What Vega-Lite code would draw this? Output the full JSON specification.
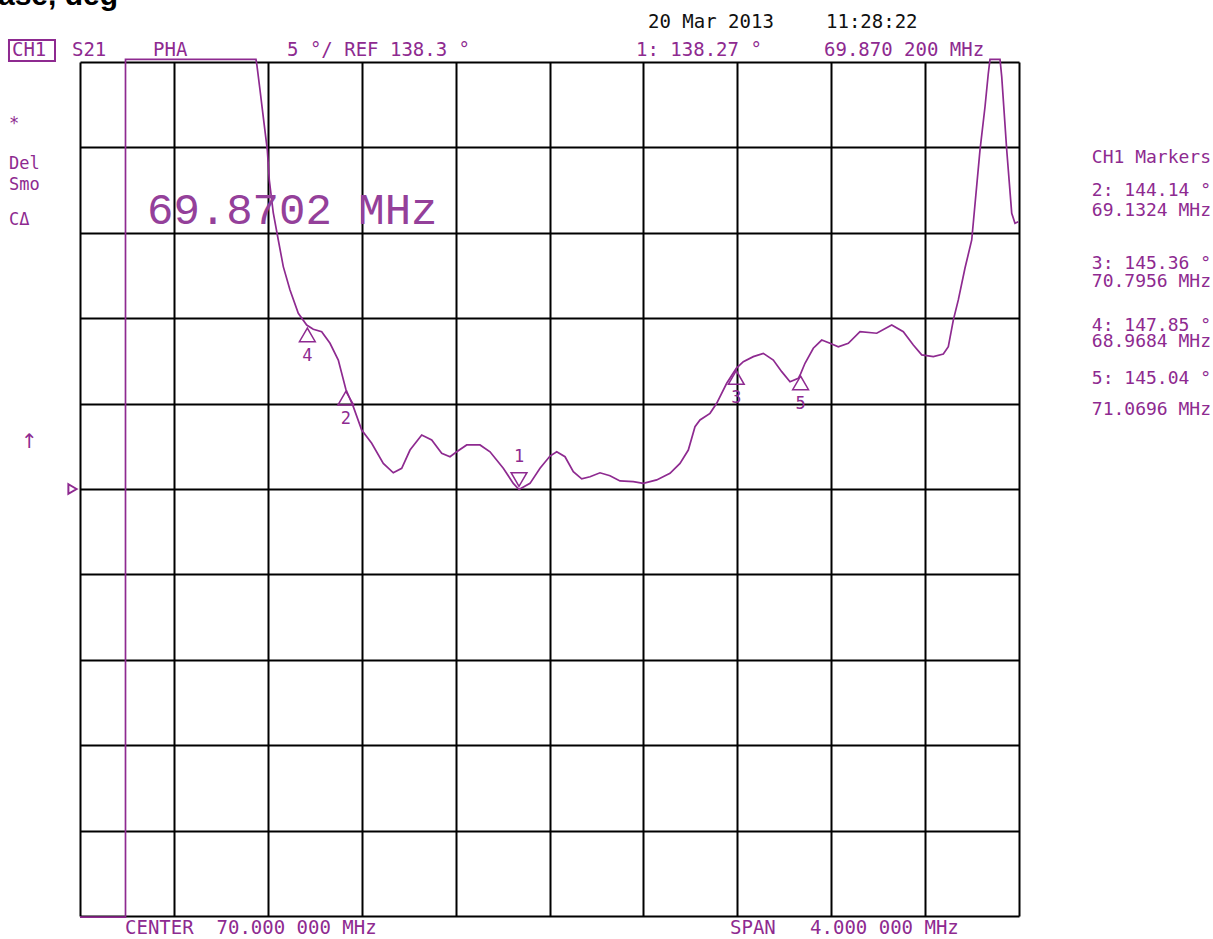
{
  "$schema": "https://vega.github.io/schema/vega-lite/v6.json",
  "width": 939,
  "height": 854,
  "autosize": {"type": "none"},
  "padding": {"left": 80, "top": 62, "right": 194, "bottom": 23},
  "background": "#ffffff",
  "config": {
    "view": {"stroke": null},
    "axis": {"labels": false, "ticks": false, "domain": false, "title": null, "grid": true, "gridColor": "#000000", "gridWidth": 2, "gridOpacity": 1}
  },
  "datasets": {
    "trace": [
      {"f": 68.0, "p": 113.24},
      {"f": 68.1938, "p": 113.24},
      {"f": 68.1938, "p": 163.45},
      {"f": 68.7497, "p": 163.45},
      {"f": 68.754, "p": 163.07},
      {"f": 68.7668, "p": 161.66},
      {"f": 68.7838, "p": 159.73},
      {"f": 68.7979, "p": 158.15},
      {"f": 68.8064, "p": 156.39},
      {"f": 68.8234, "p": 154.46},
      {"f": 68.8447, "p": 152.88},
      {"f": 68.866, "p": 151.32},
      {"f": 68.8946, "p": 149.95},
      {"f": 68.9299, "p": 148.59},
      {"f": 68.9657, "p": 147.9},
      {"f": 68.9938, "p": 147.65},
      {"f": 69.0296, "p": 147.51},
      {"f": 69.065, "p": 146.83},
      {"f": 69.1003, "p": 145.85},
      {"f": 69.1324, "p": 144.14},
      {"f": 69.1642, "p": 143.12},
      {"f": 69.2, "p": 141.75},
      {"f": 69.2426, "p": 140.98},
      {"f": 69.292, "p": 139.8},
      {"f": 69.3346, "p": 139.25},
      {"f": 69.3704, "p": 139.51},
      {"f": 69.4058, "p": 140.58},
      {"f": 69.4556, "p": 141.46},
      {"f": 69.4982, "p": 141.17},
      {"f": 69.5408, "p": 140.39},
      {"f": 69.5762, "p": 140.19},
      {"f": 69.6047, "p": 140.48},
      {"f": 69.6473, "p": 140.88},
      {"f": 69.704, "p": 140.88},
      {"f": 69.7466, "p": 140.48},
      {"f": 69.8032, "p": 139.51},
      {"f": 69.8458, "p": 138.63},
      {"f": 69.8702, "p": 138.27},
      {"f": 69.917, "p": 138.63},
      {"f": 69.9596, "p": 139.51},
      {"f": 70.0022, "p": 140.23},
      {"f": 70.0307, "p": 140.48},
      {"f": 70.0661, "p": 140.19},
      {"f": 70.1014, "p": 139.31},
      {"f": 70.1372, "p": 138.89},
      {"f": 70.1725, "p": 139.02},
      {"f": 70.2151, "p": 139.25},
      {"f": 70.2577, "p": 139.08},
      {"f": 70.3003, "p": 138.77},
      {"f": 70.357, "p": 138.73},
      {"f": 70.3996, "p": 138.63},
      {"f": 70.4567, "p": 138.83},
      {"f": 70.5133, "p": 139.22},
      {"f": 70.5559, "p": 139.8},
      {"f": 70.5913, "p": 140.58},
      {"f": 70.6198, "p": 141.95},
      {"f": 70.6411, "p": 142.34},
      {"f": 70.6837, "p": 142.73},
      {"f": 70.7122, "p": 143.32},
      {"f": 70.7548, "p": 144.49},
      {"f": 70.7956, "p": 145.36},
      {"f": 70.8256, "p": 145.75},
      {"f": 70.8682, "p": 146.05},
      {"f": 70.9108, "p": 146.24},
      {"f": 70.9534, "p": 145.85},
      {"f": 70.9892, "p": 145.17},
      {"f": 71.0245, "p": 144.58},
      {"f": 71.0599, "p": 144.78},
      {"f": 71.0696, "p": 145.04},
      {"f": 71.0884, "p": 145.66},
      {"f": 71.1238, "p": 146.54},
      {"f": 71.1596, "p": 147.02},
      {"f": 71.1949, "p": 146.83},
      {"f": 71.2303, "p": 146.63},
      {"f": 71.2729, "p": 146.83},
      {"f": 71.3227, "p": 147.51},
      {"f": 71.3939, "p": 147.42},
      {"f": 71.4578, "p": 147.9},
      {"f": 71.5072, "p": 147.51},
      {"f": 71.5498, "p": 146.73},
      {"f": 71.5856, "p": 146.15},
      {"f": 71.635, "p": 146.05},
      {"f": 71.6776, "p": 146.2},
      {"f": 71.6989, "p": 146.63},
      {"f": 71.7202, "p": 148.19},
      {"f": 71.7415, "p": 149.37},
      {"f": 71.77, "p": 151.24},
      {"f": 71.7986, "p": 152.88},
      {"f": 71.8339, "p": 158.15},
      {"f": 71.8552, "p": 160.68},
      {"f": 71.8693, "p": 162.64},
      {"f": 71.8765, "p": 163.45},
      {"f": 71.9191, "p": 163.45},
      {"f": 71.9264, "p": 162.44},
      {"f": 71.9477, "p": 158.15},
      {"f": 71.969, "p": 154.44},
      {"f": 71.983, "p": 153.86},
      {"f": 71.9971, "p": 153.95}
    ],
    "markers": [
      {"id": 1, "f": 69.8702, "p": 138.27},
      {"id": 2, "f": 69.1324, "p": 144.14},
      {"id": 3, "f": 70.7956, "p": 145.36},
      {"id": 4, "f": 68.9684, "p": 147.85},
      {"id": 5, "f": 71.0696, "p": 145.04}
    ],
    "reference": [
      {"f": 67.968, "p": 138.3}
    ],
    "badge": [
      {"f": 67.6975, "f2": 67.8935, "p": 164.59, "p2": 163.36}
    ],
    "header": [
      {"text": "CH1", "f": 67.7103, "p": 164.0},
      {"text": "S21", "f": 67.9659, "p": 164.0},
      {"text": "PHA", "f": 68.311, "p": 164.0},
      {"text": "5 °/ REF 138.3 °", "f": 68.8818, "p": 164.0},
      {"text": "1: 138.27 °", "f": 70.3685, "p": 164.0},
      {"text": "69.870 200 MHz", "f": 71.1694, "p": 164.0},
      {"text": "CENTER\u00a0\u00a070.000 000 MHz", "f": 68.1917, "p": 112.6},
      {"text": "SPAN\u00a0\u00a0\u00a04.000 000 MHz", "f": 70.7689, "p": 112.6}
    ],
    "status": [
      {"text": "*", "f": 67.6975, "p": 159.67},
      {"text": "Del", "f": 67.6975, "p": 157.33},
      {"text": "Smo", "f": 67.6975, "p": 156.1},
      {"text": "CΔ", "f": 67.6975, "p": 154.05}
    ],
    "arrow": [
      {"text": "↑", "f": 67.7487, "p": 141.05}
    ],
    "stamp": [
      {"text": "20 Mar 2013", "f": 70.4196, "p": 165.64},
      {"text": "11:28:22", "f": 71.1779, "p": 165.64}
    ],
    "markerList": [
      {"text": "CH1 Markers", "f": 72.818, "p": 157.68},
      {"text": "2: 144.14 °", "f": 72.818, "p": 155.75},
      {"text": "69.1324 MHz", "f": 72.818, "p": 154.58},
      {"text": "3: 145.36 °", "f": 72.818, "p": 151.5},
      {"text": "70.7956 MHz", "f": 72.818, "p": 150.42},
      {"text": "4: 147.85 °", "f": 72.818, "p": 147.87},
      {"text": "68.9684 MHz", "f": 72.818, "p": 146.88},
      {"text": "5: 145.04 °", "f": 72.818, "p": 144.74},
      {"text": "71.0696 MHz", "f": 72.818, "p": 142.93}
    ],
    "readout": [
      {"text": "69.8702 MHz", "f": 68.2854, "p": 154.55}
    ],
    "caption": [
      {"text": "ase, deg", "f": 67.6507, "p": 166.63}
    ]
  },
  "encoding": {
    "x": {"field": "f", "type": "quantitative", "scale": {"domain": [68, 72], "nice": false, "zero": false},
      "axis": {"values": [68, 68.4, 68.8, 69.2, 69.6, 70, 70.4, 70.8, 71.2, 71.6, 72]}},
    "y": {"field": "p", "type": "quantitative", "scale": {"domain": [113.3, 163.3], "nice": false, "zero": false},
      "axis": {"values": [113.3, 118.3, 123.3, 128.3, 133.3, 138.3, 143.3, 148.3, 153.3, 158.3, 163.3]}}
  },
  "layer": [
    {
      "data": {"name": "trace"},
      "mark": {"type": "line", "color": "#8e2a90", "strokeWidth": 1.7, "interpolate": "linear"},
      "encoding": {"order": {"value": null}}
    },
    {
      "data": {"name": "markers"},
      "transform": [{"filter": "datum.id != 1"}],
      "layer": [
        {"mark": {"type": "point", "shape": "triangle-up", "size": 250, "filled": false, "stroke": "#8e2a90", "strokeWidth": 1.5, "opacity": 1, "yOffset": 9}},
        {"mark": {"type": "text", "font": "DejaVu Sans Mono", "fontSize": 17, "color": "#8e2a90", "baseline": "middle", "dy": 30},
          "encoding": {"text": {"field": "id", "type": "nominal"}}}
      ]
    },
    {
      "data": {"name": "markers"},
      "transform": [{"filter": "datum.id == 1"}],
      "layer": [
        {"mark": {"type": "point", "shape": "triangle-down", "size": 250, "filled": false, "stroke": "#8e2a90", "strokeWidth": 1.5, "opacity": 1, "yOffset": -10}},
        {"mark": {"type": "text", "font": "DejaVu Sans Mono", "fontSize": 17, "color": "#8e2a90", "baseline": "middle", "dy": -33},
          "encoding": {"text": {"field": "id", "type": "nominal"}}}
      ]
    },
    {
      "data": {"name": "reference"},
      "mark": {"type": "point", "shape": "triangle-right", "size": 90, "filled": false, "stroke": "#8e2a90", "strokeWidth": 2, "opacity": 1}
    },
    {
      "data": {"name": "badge"},
      "mark": {"type": "rect", "fill": "#ffffff", "fillOpacity": 0, "stroke": "#8e2a90", "strokeWidth": 2, "strokeOpacity": 1},
      "encoding": {"x2": {"field": "f2"}, "y2": {"field": "p2"}}
    },
    {
      "data": {"name": "header"},
      "mark": {"type": "text", "font": "DejaVu Sans Mono", "fontSize": 19, "color": "#8e2a90", "align": "left", "baseline": "middle"},
      "encoding": {"text": {"field": "text"}}
    },
    {
      "data": {"name": "status"},
      "mark": {"type": "text", "font": "DejaVu Sans Mono", "fontSize": 17, "color": "#8e2a90", "align": "left", "baseline": "middle"},
      "encoding": {"text": {"field": "text"}}
    },
    {
      "data": {"name": "arrow"},
      "mark": {"type": "text", "font": "DejaVu Sans", "fontSize": 20, "color": "#8e2a90", "align": "left", "baseline": "middle"},
      "encoding": {"text": {"field": "text"}}
    },
    {
      "data": {"name": "stamp"},
      "mark": {"type": "text", "font": "DejaVu Sans Mono", "fontSize": 19, "color": "#111111", "align": "left", "baseline": "middle"},
      "encoding": {"text": {"field": "text"}}
    },
    {
      "data": {"name": "markerList"},
      "mark": {"type": "text", "font": "DejaVu Sans Mono", "fontSize": 18, "color": "#8e2a90", "align": "right", "baseline": "middle"},
      "encoding": {"text": {"field": "text"}}
    },
    {
      "data": {"name": "readout"},
      "mark": {"type": "text", "font": "Liberation Mono", "fontSize": 44, "color": "#94409a", "align": "left", "baseline": "middle"},
      "encoding": {"text": {"field": "text"}}
    },
    {
      "data": {"name": "caption"},
      "mark": {"type": "text", "font": "Liberation Sans", "fontWeight": "bold", "fontSize": 30, "color": "#000000", "align": "left", "baseline": "alphabetic"},
      "encoding": {"text": {"field": "text"}}
    }
  ]
}
